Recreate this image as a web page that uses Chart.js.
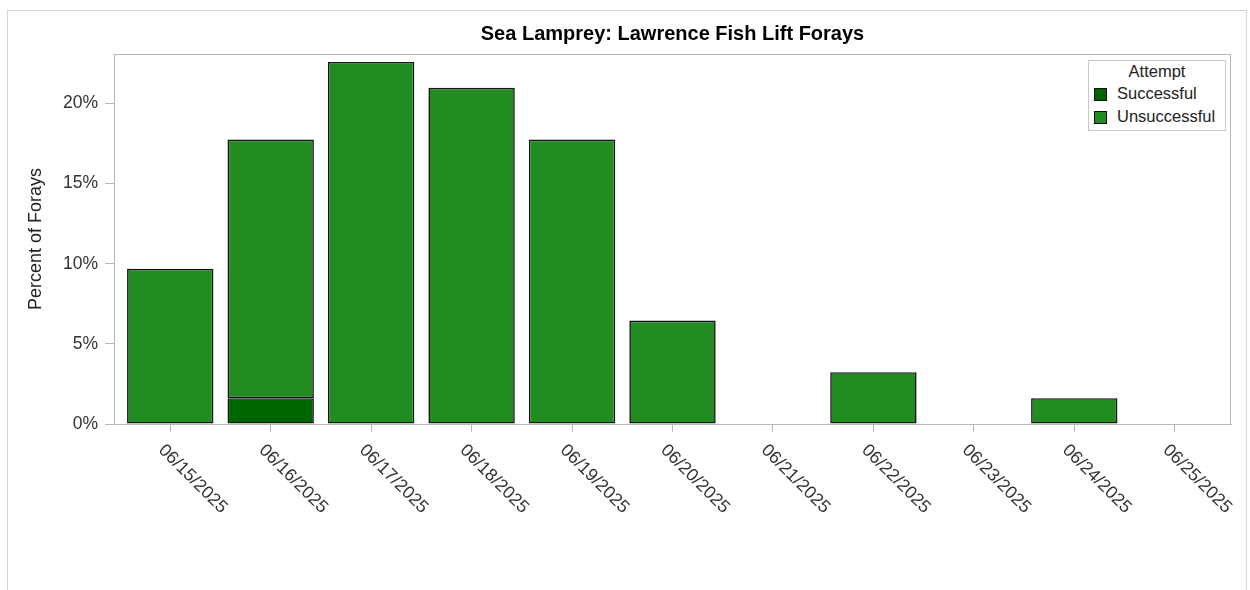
<!DOCTYPE html>
<html>
<head>
<meta charset="utf-8">
<script src="https://cdn.jsdelivr.net/npm/chart.js@4.4.1/dist/chart.umd.min.js"></script>
<style>
  html, body { margin: 0; padding: 0; background: #ffffff; }
  #wrap { position: relative; width: 1250px; height: 590px; overflow: hidden; }
  #frame { position: absolute; left: 7px; top: 10px; width: 1240px; height: 600px; border: 1px solid #d6d6d6; box-sizing: border-box; }
  #c { position: absolute; left: 0; top: 0; }
  #legend { position: absolute; left: 1088px; top: 60px; width: 138px; height: 71px; box-sizing: border-box;
            border: 1px solid #c8c8c8; background: #ffffff; font-family: "Liberation Sans", Arial, sans-serif;
            font-size: 16.5px; color: #222; }
  #legend .ttl { position: absolute; left: 0; width: 100%; top: 0px; text-align: center; line-height: 20px; }
  #legend .item { position: absolute; left: 5px; height: 20px; line-height: 20px; white-space: nowrap; }
  #legend .sw { display: inline-block; width: 13px; height: 13px; box-sizing: border-box; border: 1px solid #111;
                vertical-align: -2px; margin-right: 10px; }
</style>
</head>
<body>
<div id="wrap">
  <div id="frame"></div>
  <canvas id="c" width="1250" height="590"></canvas>
  <div id="legend"></div>
</div>
<script>
// ---- data ----
const chartTitle = "Sea Lamprey: Lawrence Fish Lift Forays";
const yAxisTitle = "Percent of Forays";
const legendTitle = "Attempt";
const categories = ["06/15/2025","06/16/2025","06/17/2025","06/18/2025","06/19/2025","06/20/2025","06/21/2025","06/22/2025","06/23/2025","06/24/2025","06/25/2025"];
const successful   = [0, 1.61, 0, 0, 0, 0, 0, 0, 0, 0, 0];
const unsuccessful = [9.68, 16.13, 22.58, 20.97, 17.74, 6.45, 0, 3.23, 0, 1.61, 0];
const yTicks = [0, 5, 10, 15, 20];
const seriesNames = ["Successful", "Unsuccessful"];
const seriesColors = ["#006400", "#228B22"];

const FONT = "'Liberation Sans', Arial, sans-serif";

const toPoints = arr => arr.map((v, i) => ({ x: i, y: v }));

const plotFrame = {
  id: 'plotFrame',
  beforeDatasetsDraw(chart) {
    const a = chart.chartArea, ctx = chart.ctx;
    ctx.save();
    ctx.strokeStyle = '#b3b8bd';
    ctx.lineWidth = 1;
    ctx.strokeRect(Math.round(a.left) + 0.5, Math.round(a.top) + 0.5, Math.round(a.right - a.left) - 1, Math.round(a.bottom - a.top));
    ctx.restore();
  }
};

const centerTitle = {
  id: 'centerTitle',
  afterLayout(chart) {
    const t = chart.titleBlock;
    if (t) { t.left = chart.chartArea.left; t.right = chart.chartArea.right; t.width = t.right - t.left; }
  }
};

const chart = new Chart(document.getElementById('c'), {
  type: 'bar',
  data: {
    datasets: [
      { label: seriesNames[0], data: toPoints(successful), backgroundColor: seriesColors[0],
        borderColor: '#141414', borderWidth: 1.6, borderSkipped: false },
      { label: seriesNames[1], data: toPoints(unsuccessful), backgroundColor: seriesColors[1],
        borderColor: '#141414', borderWidth: 1.6, borderSkipped: false }
    ]
  },
  plugins: [plotFrame, centerTitle],
  options: {
    responsive: false,
    animation: false,
    layout: { padding: { left: 20, right: 19, top: 10, bottom: 0 } },
    datasets: { bar: { barPercentage: 0.86, categoryPercentage: 1.0 } },
    plugins: {
      legend: { display: false },
      tooltip: { enabled: false },
      title: {
        display: true, text: chartTitle, color: '#000',
        font: { family: FONT, size: 20, weight: 'bold' },
        padding: { top: 12, bottom: 8 }
      }
    },
    scales: {
      x: {
        type: 'linear', stacked: true, offset: false,
        min: -0.56, max: 10.56,
        afterBuildTicks(axis) { axis.ticks = categories.map((_, i) => ({ value: i })); },
        afterFit(axis) {
          axis.height = 166;
          axis._getXAxisLabelAlignment = () => 'left';
        },
        grid: { offset: false, drawOnChartArea: false, drawTicks: true, tickLength: 8, color: '#b3b8bd' },
        border: { display: true, color: '#b3b8bd' },
        ticks: {
          autoSkip: false, minRotation: -45, maxRotation: -45, padding: 8, labelOffset: -9,
          color: '#333', font: { family: FONT, size: 17.8 },
          callback: v => categories[v]
        }
      },
      y: {
        stacked: true, min: 0, max: 23.08,
        afterBuildTicks(axis) { axis.ticks = yTicks.map(v => ({ value: v })); },
        afterFit(axis) { axis.width = 94; },
        grid: { drawOnChartArea: false, drawTicks: true, tickLength: 9, color: '#b3b8bd' },
        border: { display: true, color: '#b3b8bd' },
        title: { display: true, text: yAxisTitle, color: '#222', font: { family: FONT, size: 18 }, padding: { top: 5, bottom: 0 } },
        ticks: { padding: 7, color: '#333', font: { family: FONT, size: 17.5 }, callback: v => v + '%' }
      }
    }
  }
});

// HTML legend built from the chart's datasets
(function buildLegend() {
  const lg = document.getElementById('legend');
  const t = document.createElement('div');
  t.className = 'ttl'; t.textContent = legendTitle; lg.appendChild(t);
  chart.data.datasets.forEach((ds, i) => {
    const it = document.createElement('div');
    it.className = 'item'; it.style.top = (22 + i * 23) + 'px';
    const sw = document.createElement('span');
    sw.className = 'sw'; sw.style.background = ds.backgroundColor;
    it.appendChild(sw);
    it.appendChild(document.createTextNode(ds.label));
    lg.appendChild(it);
  });
})();
</script>
</body>
</html>
